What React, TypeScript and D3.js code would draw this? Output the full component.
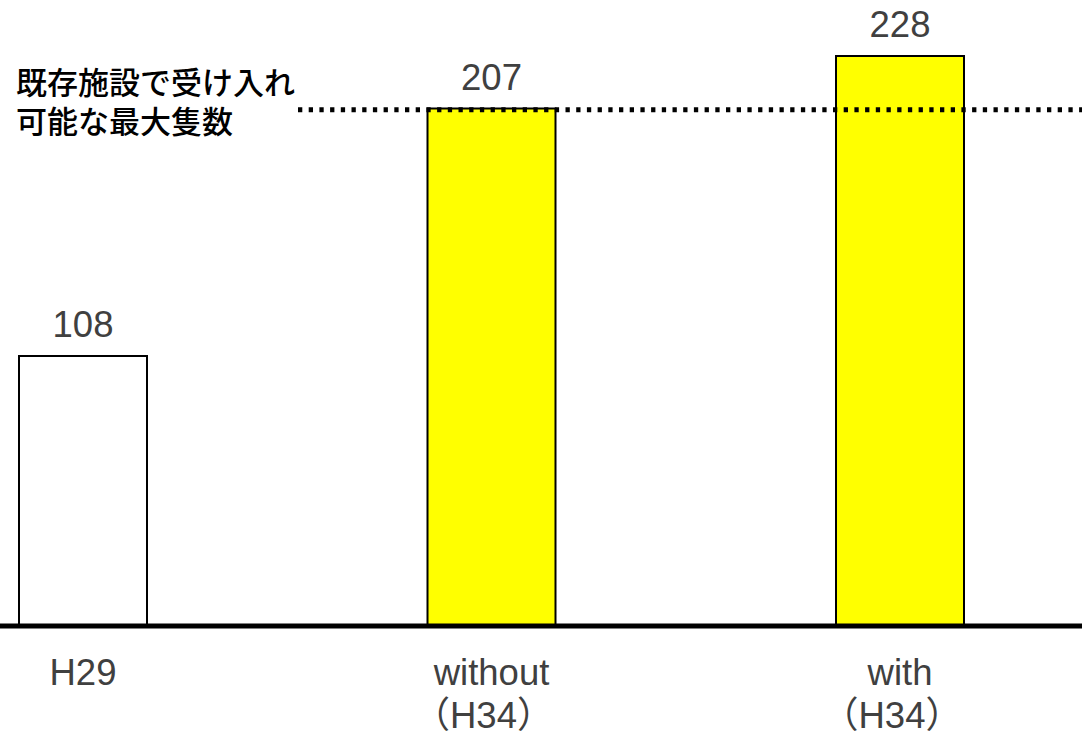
import React from "react";
import * as d3 from "d3";

const categories = ["H29", "without", "with"];
const subLabels = ["", "（H34）", "（H34）"];
const values = [108, 207, 228];
const fills = ["#ffffff", "#ffff00", "#ffff00"];
const capacityValue = 206.5;
const capacityLabel = ["既存施設で受け入れ", "可能な最大隻数"];

const W = 1082;
const H = 732;

export default function App() {
  const baseline = 626;
  const y = d3.scaleLinear().domain([0, 100]).range([baseline, baseline - 250]);
  const x = d3.scalePoint<string>().domain(categories).range([83, 900]);
  const bw = 128;
  const textColor = "#404040";
  const font = "Arial, 'Liberation Sans', 'Noto Sans CJK JP', sans-serif";
  const fs = 36.5;

  return (
    <svg
      width={W}
      height={H}
      style={{ position: "absolute", left: 0, top: 0, background: "#fff" }}
    >
      {categories.map((c, i) => (
        <g key={c}>
          <rect
            x={(x(c) as number) - bw / 2}
            y={y(values[i])}
            width={bw}
            height={baseline - y(values[i])}
            fill={fills[i]}
            stroke="#000"
            strokeWidth={2}
          />
          <text
            x={x(c)}
            y={y(values[i]) - 19}
            textAnchor="middle"
            fontFamily={font}
            fontSize={fs}
            fill={textColor}
          >
            {values[i]}
          </text>
          <text
            x={x(c)}
            y={685}
            textAnchor="middle"
            fontFamily={font}
            fontSize={fs}
            fill={textColor}
          >
            {c}
          </text>
          {subLabels[i] && (
            <text
              x={(x(c) as number) - 8}
              y={728}
              textAnchor="middle"
              fontFamily={font}
              fontSize={fs}
              fill={textColor}
            >
              {subLabels[i]}
            </text>
          )}
        </g>
      ))}
      <line
        x1={298}
        x2={W}
        y1={y(capacityValue)}
        y2={y(capacityValue)}
        stroke="#000"
        strokeWidth={5}
        strokeDasharray="4.3,6.4"
      />
      {capacityLabel.map((t, i) => (
        <text
          key={t}
          x={16}
          y={94 + i * 39}
          fontFamily="'Noto Sans CJK JP', sans-serif"
          fontWeight={500}
          fontSize={31}
          fill="#000"
        >
          {t}
        </text>
      ))}
      <line x1={0} x2={W} y1={baseline} y2={baseline} stroke="#000" strokeWidth={5} />
    </svg>
  );
}
